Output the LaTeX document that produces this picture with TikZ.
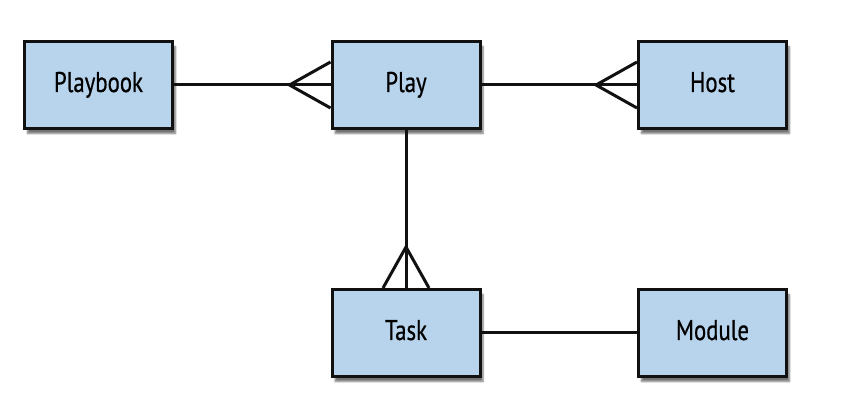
\documentclass[tikz,border=0pt]{standalone}
\usepackage{fontspec}
\setsansfont[FakeStretch=0.8,FakeBold=0.6]{PT Sans}
\usetikzlibrary{calc,shadows.blur}
\definecolor{boxfill}{HTML}{B8D4EC}
\definecolor{edgecol}{HTML}{111111}

\tikzset{
  entity/.style={draw=edgecol, line width=3pt, fill=boxfill,
    minimum width=148pt, minimum height=87pt, inner sep=0pt,
    text height=20pt, text depth=6pt,
    font=\sffamily\fontsize{28.5}{30}\selectfont,
    blur shadow={shadow xshift=3pt, shadow yshift=-5pt, shadow blur steps=6, shadow opacity=55}},
  link/.style={draw=edgecol, line width=3pt}
}

\begin{document}
\begin{tikzpicture}[x=1pt, y=1pt]
  \useasboundingbox (0,0) rectangle (852,396);

  % Entities
  \node[entity] (playbook) at (98.5,311) {Playbook};
  \node[entity] (play)     at (406,311)  {Play};
  \node[entity] (host)     at (712.5,311) {Host};
  \node[entity] (task)     at (406,63)   {Task};
  \node[entity] (module)   at (712.5,63) {Module};

  % Relations
  \draw[link] (playbook) -- (play);
  \draw[link] (play) -- (host);
  \draw[link] (play) -- (task);
  \draw[link] (task) -- (module);

  % Crow's feet (many side)
  \coordinate (footplay) at ($(play.west)+(-41,0)$);
  \draw[link] ($(play.west)+(0,23)$) -- (footplay) -- ($(play.west)+(0,-23)$);
  \coordinate (foothost) at ($(host.west)+(-41,0)$);
  \draw[link] ($(host.west)+(0,23)$) -- (foothost) -- ($(host.west)+(0,-23)$);
  \coordinate (foottask) at ($(task.north)+(0,41)$);
  \draw[link] ($(task.north)+(-23,0)$) -- (foottask) -- ($(task.north)+(23,0)$);
\end{tikzpicture}
\end{document}
